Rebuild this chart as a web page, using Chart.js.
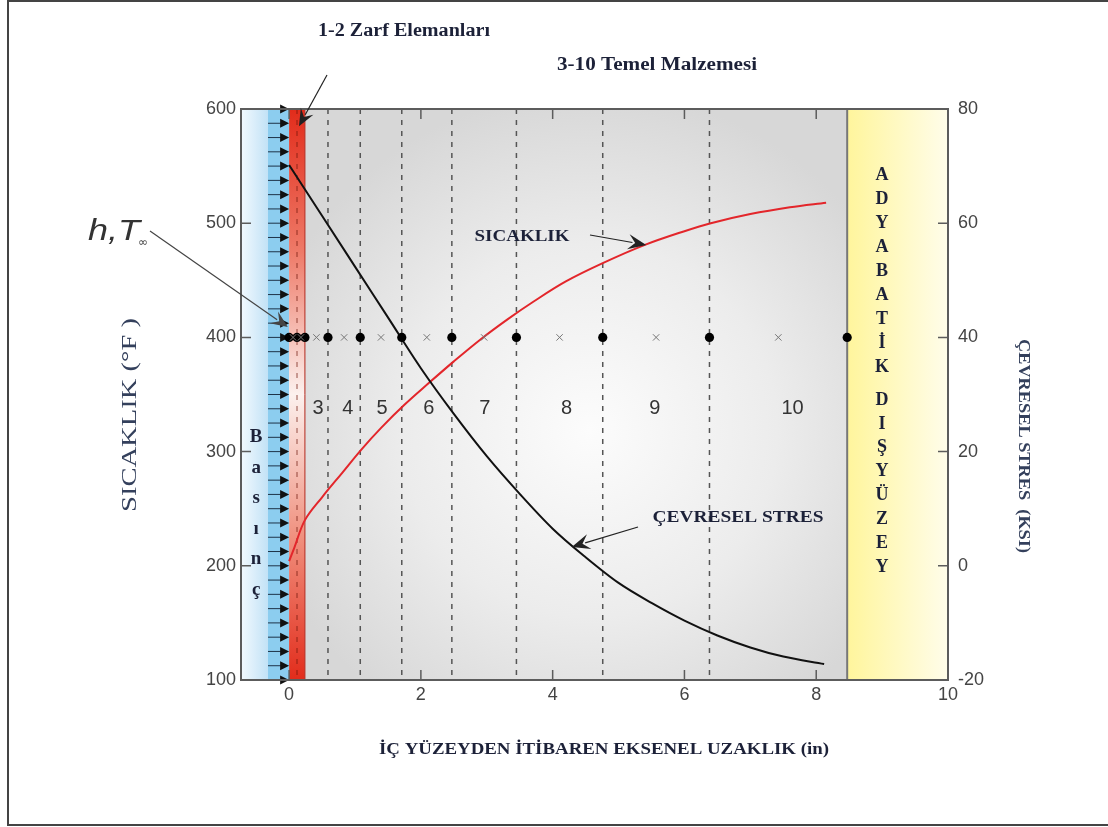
<!DOCTYPE html>
<html>
<head>
<meta charset="utf-8">
<script src="https://cdn.jsdelivr.net/npm/chart.js@4.4.1/dist/chart.umd.min.js"></script>
<style>
html,body{margin:0;padding:0;background:#fff;}
canvas{display:block;}
</style>
</head>
<body>
<canvas id="c" width="1108" height="827"></canvas>
<script>
// ---- data ----
const tempX  = [0, 0.08, 0.24, 0.5, 0.8, 1.1, 1.4, 1.75, 2.12, 2.5, 2.9, 3.32, 3.7, 4.2, 4.76, 5.4, 6.0, 6.4, 7.0, 7.6, 8.15];
const tempF  = [204, 216, 240, 260, 281, 302, 321, 341, 360, 379, 398, 416, 431, 449, 465, 481, 493, 500, 508, 514, 518];
const stressX   = [0, 0.5, 1.0, 1.5, 2.0, 2.5, 3.0, 3.5, 4.0, 4.5, 5.0, 5.5, 6.0, 6.5, 7.0, 7.5, 8.12];
const stressKsi = [70.2, 61.3, 52.4, 43.5, 34.6, 26.6, 19.2, 12.6, 6.5, 1.5, -3.0, -6.5, -9.6, -12.2, -14.3, -15.9, -17.2];
const boundaryX = [0, 0.12, 0.24, 0.59, 1.08, 1.71, 2.47, 3.45, 4.76, 6.38, 8.47];
const midX      = [0.06, 0.18, 0.415, 0.835, 1.395, 2.09, 2.96, 4.105, 5.57, 7.425];
const nodeRowF  = [400];
const elementLabels = ['3','4','5','6','7','8','9','10'];
const elementLabelX = [0.44, 0.89, 1.41, 2.12, 2.97, 4.21, 5.55, 7.64];
const elementLabelF = [338];
const xTicks      = [0, 2, 4, 6, 8, 10];
const yLeftTicks  = [100, 200, 300, 400, 500, 600];
const yRightTicks = [-20, 0, 20, 40, 60, 80];
const xRange      = [-0.73, 10];
const tempRange   = [100, 600];
const stressRange = [-20, 80];
const arrowColumnX = [-0.32];
const pressureArrowF = [600,587.5,575,562.5,550,537.5,525,512.5,500,487.5,475,462.5,450,437.5,425,412.5,400,387.5,375,362.5,350,337.5,325,312.5,300,287.5,275,262.5,250,237.5,225,212.5,200,187.5,175,162.5,150,137.5,125,112.5,100];
const outerWord1 = ['A','D','Y','A','B','A','T','İ','K'];
const outerWord2 = ['D','I','Ş','Y','Ü','Z','E','Y'];
const innerWord  = ['B','a','s','ı','n','ç'];

function arrow(ctx, x1, y1, x2, y2, head, color){
  ctx.save();
  ctx.strokeStyle = color; ctx.fillStyle = color; ctx.lineWidth = 1.2;
  const a = Math.atan2(y2-y1, x2-x1);
  const bx = x2 - head*Math.cos(a), by = y2 - head*Math.sin(a);
  ctx.beginPath(); ctx.moveTo(x1,y1); ctx.lineTo(bx,by); ctx.stroke();
  ctx.beginPath();
  ctx.moveTo(x2,y2);
  ctx.lineTo(x2 - head*1.3*Math.cos(a) + head*0.55*Math.sin(a), y2 - head*1.3*Math.sin(a) - head*0.55*Math.cos(a));
  ctx.lineTo(bx + 0.2*head*Math.cos(a), by + 0.2*head*Math.sin(a));
  ctx.lineTo(x2 - head*1.3*Math.cos(a) - head*0.55*Math.sin(a), y2 - head*1.3*Math.sin(a) + head*0.55*Math.cos(a));
  ctx.closePath(); ctx.fill();
  ctx.restore();
}
function fitText(ctx, txt, cx, cy, w, font, color, rot){
  ctx.save();
  ctx.font = font; ctx.fillStyle = color;
  ctx.textAlign = 'center'; ctx.textBaseline = 'middle';
  ctx.translate(cx, cy);
  if (rot) ctx.rotate(rot);
  if (w) { const m = ctx.measureText(txt).width; ctx.scale(w/m, 1); }
  ctx.fillText(txt, 0, 0);
  ctx.restore();
}

const deco = {
  id: 'deco',
  beforeDatasetsDraw(chart){
    const {ctx, chartArea:a, scales} = chart;
    const X = v => scales.x.getPixelForValue(v);
    const Y = v => scales.y.getPixelForValue(v);
    const h = a.bottom - a.top;
    ctx.save();
    const xCol = X(arrowColumnX[0]), x0 = X(0), xEnv = X(boundaryX[2]), xBase = X(boundaryX[boundaryX.length-1]);
    // light blue zone
    let g = ctx.createLinearGradient(a.left,0,xCol,0);
    g.addColorStop(0,'#f2f9fe'); g.addColorStop(1,'#c2e2f6');
    ctx.fillStyle = g; ctx.fillRect(a.left, a.top, xCol-a.left, h);
    // arrow column
    ctx.fillStyle = '#8ccdef'; ctx.fillRect(xCol, a.top, x0-xCol, h);
    // red envelope band
    g = ctx.createLinearGradient(0,a.top,0,a.bottom);
    g.addColorStop(0,'#e22c1b'); g.addColorStop(0.25,'#ee7a68'); g.addColorStop(0.5,'#fcf1ee');
    g.addColorStop(0.75,'#f0907e'); g.addColorStop(1,'#e22c1b');
    ctx.fillStyle = g; ctx.fillRect(x0, a.top, xEnv-x0, h);
    // gray base material
    g = ctx.createRadialGradient(590,430,0,590,430,340);
    g.addColorStop(0,'#fcfcfc'); g.addColorStop(0.55,'#ececec'); g.addColorStop(1,'#d7d7d7');
    ctx.fillStyle = g; ctx.fillRect(xEnv, a.top, xBase-xEnv, h);
    // yellow outer zone
    g = ctx.createLinearGradient(xBase,0,a.right,0);
    g.addColorStop(0,'#fff59c'); g.addColorStop(1,'#fffdea');
    ctx.fillStyle = g; ctx.fillRect(xBase, a.top, a.right-xBase, h);
    // separators
    ctx.strokeStyle = '#777'; ctx.lineWidth = 2;
    ctx.beginPath(); ctx.moveTo(xBase, a.top); ctx.lineTo(xBase, a.bottom); ctx.stroke();
    ctx.strokeStyle = '#b3261a'; ctx.lineWidth = 1;
    ctx.beginPath(); ctx.moveTo(xEnv, a.top); ctx.lineTo(xEnv, a.bottom); ctx.stroke();
    // dashed element boundaries
    ctx.setLineDash([5,6]);
    ctx.strokeStyle = 'rgba(110,20,10,0.55)'; ctx.lineWidth = 1.3;
    ctx.beginPath(); ctx.moveTo(X(boundaryX[1]), a.top); ctx.lineTo(X(boundaryX[1]), a.bottom); ctx.stroke();
    ctx.strokeStyle = '#555'; ctx.lineWidth = 1.5;
    for (let i = 3; i < boundaryX.length-1; i++){
      const px = X(boundaryX[i]);
      ctx.beginPath(); ctx.moveTo(px, a.top); ctx.lineTo(px, a.bottom); ctx.stroke();
    }
    ctx.setLineDash([]);
    // pressure arrows
    for (const f of pressureArrowF){
      const py = Y(f);
      ctx.strokeStyle = '#1e3348'; ctx.lineWidth = 1;
      ctx.beginPath(); ctx.moveTo(xCol, py); ctx.lineTo(x0-7, py); ctx.stroke();
      ctx.fillStyle = '#111';
      ctx.beginPath(); ctx.moveTo(x0, py); ctx.lineTo(x0-9, py-4.5); ctx.lineTo(x0-9, py+4.5); ctx.closePath(); ctx.fill();
    }
    ctx.restore();
  },
  afterDraw(chart){
    const {ctx, chartArea:a, scales} = chart;
    const X = v => scales.x.getPixelForValue(v);
    const Y = v => scales.y.getPixelForValue(v);
    const Y2 = v => scales.y2.getPixelForValue(v);
    ctx.save();
    // plot box
    ctx.strokeStyle = '#5c5c5c'; ctx.lineWidth = 2;
    ctx.strokeRect(a.left, a.top, a.right-a.left, a.bottom-a.top);
    // inward ticks
    ctx.lineWidth = 1.5; ctx.strokeStyle = '#5c5c5c';
    ctx.beginPath();
    for (const v of yLeftTicks){ const p = Y(v); ctx.moveTo(a.left, p); ctx.lineTo(a.left+10, p); }
    for (const v of yRightTicks){ const p = Y2(v); ctx.moveTo(a.right, p); ctx.lineTo(a.right-10, p); }
    for (const v of xTicks){ const p = X(v); ctx.moveTo(p, a.bottom); ctx.lineTo(p, a.bottom-10); ctx.moveTo(p, a.top); ctx.lineTo(p, a.top+10); }
    ctx.stroke();
    // figure frame
    ctx.strokeStyle = '#444'; ctx.lineWidth = 2;
    ctx.beginPath(); ctx.moveTo(1108, 1); ctx.lineTo(8, 1); ctx.lineTo(8, 825); ctx.lineTo(1108, 825); ctx.stroke();

    const ink = '#1c2138';
    const boldSerif = 'bold 18px "Liberation Serif", "DejaVu Serif", serif';
    // element numbers
    elementLabels.forEach((t,i) => {
      fitText(ctx, t, X(elementLabelX[i]), Y(elementLabelF[0]), 0, '20px "Liberation Sans", Arial, sans-serif', '#333');
    });
    // titles
    fitText(ctx, '1-2 Zarf Elemanları', 404, 31, 172, boldSerif, ink);
    fitText(ctx, '3-10 Temel Malzemesi', 657, 65, 200, boldSerif, ink);
    arrow(ctx, 327, 75, X(0.15), Y(585), 13, '#222');
    // h, T_inf
    fitText(ctx, 'h,T', 114, 232, 52, 'italic 29px "Liberation Sans", Arial, sans-serif', '#333');
    fitText(ctx, '∞', 143, 243, 0, '12px "DejaVu Sans", sans-serif', '#444');
    arrow(ctx, 150, 231, X(-0.02), Y(409), 13, '#444');
    // curve labels
    fitText(ctx, 'SICAKLIK', 522, 237, 95, 'bold 16px "Liberation Serif", serif', ink);
    arrow(ctx, 590, 235, X(5.42), Y(481), 14, '#222');
    fitText(ctx, 'ÇEVRESEL STRES', 738, 518, 171, 'bold 17px "Liberation Serif", serif', ink);
    arrow(ctx, 638, 527, X(4.29), Y(216.5), 14, '#222');
    // axis titles
    fitText(ctx, 'İÇ YÜZEYDEN İTİBAREN EKSENEL UZAKLIK (in)', 604, 750, 450, 'bold 17px "Liberation Serif", serif', ink);
    fitText(ctx, 'SICAKLIK (°F )', 131, 415, 194, '20px "Liberation Serif", serif', '#34405c', -Math.PI/2);
    fitText(ctx, 'ÇEVRESEL STRES  (KSI)', 1023, 446, 214, 'bold 17px "Liberation Serif", serif', '#34405c', Math.PI/2);
    // vertical words
    const xo = X(9.0);
    outerWord1.forEach((c,i) => fitText(ctx, c, xo, 175 + i*24.1, 0, 'bold 18px "Liberation Serif", serif', ink));
    outerWord2.forEach((c,i) => fitText(ctx, c, xo, 400 + i*23.9, 0, 'bold 18px "Liberation Serif", serif', ink));
    const xi = X(-0.5);
    innerWord.forEach((c,i) => fitText(ctx, c, xi, 437 + i*30.6, 0, 'bold 19px "Liberation Serif", serif', ink));
    ctx.restore();
  }
};

const tickFont = {family:'"Liberation Sans", Arial, sans-serif', size:18};
const tickColor = '#444';
new Chart(document.getElementById('c').getContext('2d'), {
  type: 'scatter',
  data: {
    datasets: [
      { label:'SICAKLIK', type:'line', yAxisID:'y',
        data: tempX.map((x,i) => ({x, y: tempF[i]})),
        borderColor:'#e3262b', borderWidth:2, pointRadius:0, fill:false,
        tension:0.35, order:2 },
      { label:'ÇEVRESEL STRES', type:'line', yAxisID:'y2',
        data: stressX.map((x,i) => ({x, y: stressKsi[i]})),
        borderColor:'#111', borderWidth:2, pointRadius:0, fill:false,
        cubicInterpolationMode:'monotone', order:1 },
      { label:'mid', yAxisID:'y',
        data: midX.map(x => ({x, y: nodeRowF[0]})),
        pointStyle:'crossRot', pointRadius:4.5, borderColor:'#777', borderWidth:1, backgroundColor:'#777', order:0 },
      { label:'nodes', yAxisID:'y',
        data: boundaryX.map(x => ({x, y: nodeRowF[0]})),
        pointStyle:'circle', pointRadius:4.6, borderWidth:0, backgroundColor:'#000', borderColor:'#000', order:0 }
    ]
  },
  options: {
    responsive:false, animation:false, devicePixelRatio:1,
    layout:{ padding:{ top:109, left:0, right:0, bottom:0 } },
    plugins:{ legend:{display:false}, tooltip:{enabled:false} },
    scales:{
      x:{ type:'linear', min:xRange[0], max:xRange[1],
          afterBuildTicks(s){ s.ticks = xTicks.map(v => ({value:v})); },
          afterFit(s){ s.height = 147; },
          grid:{display:false, drawTicks:false}, border:{display:false},
          ticks:{ font:tickFont, color:tickColor, padding:4, maxRotation:0, autoSkip:false } },
      y:{ type:'linear', position:'left', min:tempRange[0], max:tempRange[1],
          afterBuildTicks(s){ s.ticks = yLeftTicks.map(v => ({value:v})); },
          afterFit(s){ s.width = 241; },
          grid:{display:false, drawTicks:false}, border:{display:false},
          ticks:{ font:tickFont, color:tickColor, padding:5 } },
      y2:{ type:'linear', position:'right', min:stressRange[0], max:stressRange[1],
          afterBuildTicks(s){ s.ticks = yRightTicks.map(v => ({value:v})); },
          afterFit(s){ s.width = 160; },
          grid:{display:false, drawTicks:false}, border:{display:false},
          ticks:{ font:tickFont, color:tickColor, padding:10 } }
    }
  },
  plugins:[deco]
});
</script>
</body>
</html>
